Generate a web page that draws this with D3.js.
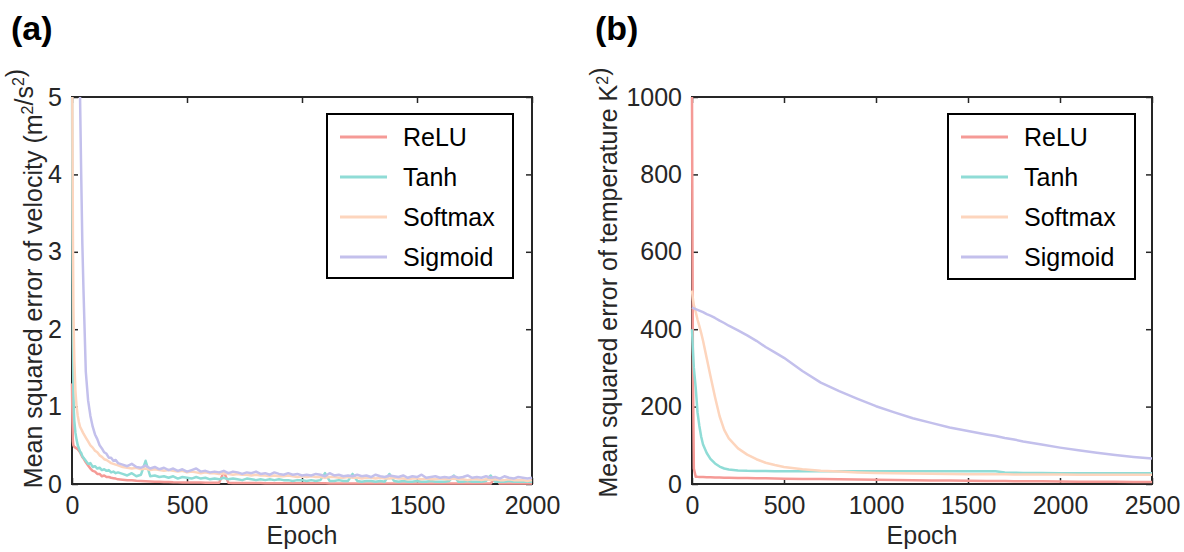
<!DOCTYPE html>
<html>
<head>
<meta charset="utf-8">
<script src="https://cdn.jsdelivr.net/npm/d3@7"></script>
<style>
  html, body { margin: 0; padding: 0; background: #fff; }
  svg { display: block; }
  text { font-family: "Liberation Sans", Arial, sans-serif; fill: #262626; }
</style>
</head>
<body>
<script>
// ---------- Panel (a): velocity MSE vs epoch ----------
const epochsA = [0,2,4,6,8,10,15,20,25,30,35,40,45,50,60,70,80,90,100,110,120,130,140,150,160,170,180,190,200]
  .concat(d3.range(220, 2001, 20));

const reluA = [1.3,0.8,0.55,0.5,0.49,0.48,0.47,0.46,0.45,0.43,0.41,0.38,0.35,0.33,0.28,0.24,0.2,0.17,0.16,0.13,0.13,0.1,0.11,0.09,0.09,0.08,0.075,0.07,0.06,
  0.055,0.05,0.048,0.042,0.04,0.036,0.033,0.03,0.03,0.026,
  0.025,0.022,0.021,0.02,0.02,0.019,0.018,0.018,0.017,0.017,
  0.016,0.015,0.16,0.015,0.014,0.014,0.013,0.013,0.012,0.012,
  0.012,0.011,0.011,0.011,0.01,0.01,0.01,0.01,0.01,0.01,
  0.009,0.009,0.009,0.009,0.009,0.008,0.008,0.008,0.008,0.008,
  0.008,0.008,0.007,0.007,0.007,0.007,0.007,0.007,0.007,0.007,
  0.006,0.006,0.006,0.006,0.006,0.006,0.006,0.006,0.006,0.006,
  0.006,0.005,0.005,0.005,0.005,0.005,0.005,0.005,0.005,0.005,
  0.005,0.08,0.005,0.005,0.005,0.005,0.005,0.005,0.005,0.005];

const tanhA = [5.5,3.2,1.8,1.2,0.95,0.82,0.66,0.57,0.5,0.46,0.42,0.4,0.36,0.34,0.3,0.26,0.27,0.22,0.23,0.2,0.21,0.18,0.19,0.17,0.18,0.15,0.16,0.14,0.15,
  0.13,0.11,0.14,0.1,0.12,0.3,0.1,0.11,0.09,0.1,
  0.08,0.1,0.07,0.09,0.08,0.07,0.09,0.07,0.08,0.06,
  0.07,0.06,0.08,0.06,0.07,0.06,0.05,0.07,0.06,0.05,
  0.06,0.05,0.06,0.05,0.06,0.05,0.05,0.04,0.05,0.05,
  0.04,0.05,0.04,0.05,0.14,0.04,0.04,0.05,0.04,0.04,
  0.13,0.04,0.03,0.04,0.04,0.03,0.04,0.03,0.13,0.04,
  0.03,0.04,0.03,0.03,0.04,0.03,0.03,0.04,0.03,0.03,
  0.03,0.04,0.11,0.03,0.03,0.04,0.03,0.03,0.03,0.04,
  0.11,0.03,0.03,0.03,0.04,0.03,0.03,0.03,0.03,0.03];

const softmaxA = [6,4.5,3.2,2.3,1.9,1.6,1.2,1.0,0.88,0.8,0.74,0.71,0.68,0.65,0.6,0.55,0.5,0.47,0.43,0.41,0.37,0.35,0.32,0.31,0.29,0.27,0.26,0.25,0.24,
  0.22,0.21,0.2,0.21,0.19,0.2,0.18,0.19,0.18,0.17,
  0.18,0.17,0.16,0.17,0.15,0.16,0.15,0.14,0.15,0.14,
  0.14,0.13,0.14,0.13,0.12,0.13,0.12,0.12,0.11,0.12,
  0.11,0.11,0.1,0.11,0.1,0.1,0.11,0.1,0.09,0.1,
  0.09,0.1,0.09,0.09,0.08,0.09,0.09,0.08,0.08,0.09,
  0.08,0.08,0.07,0.08,0.08,0.07,0.08,0.07,0.07,0.08,
  0.07,0.07,0.06,0.07,0.07,0.06,0.07,0.06,0.06,0.07,
  0.06,0.06,0.07,0.06,0.06,0.05,0.06,0.06,0.05,0.06,
  0.05,0.06,0.05,0.05,0.06,0.05,0.05,0.05,0.04,0.05];

const sigmoidA = [15,13,12,11,10,9.4,8.2,7.2,6.4,5.6,5.0,4.0,3.1,2.5,1.45,1.08,0.88,0.74,0.64,0.58,0.5,0.46,0.41,0.39,0.34,0.34,0.3,0.31,0.27,
  0.25,0.23,0.26,0.22,0.21,0.24,0.2,0.22,0.19,0.21,
  0.18,0.2,0.17,0.19,0.16,0.18,0.2,0.16,0.17,0.15,
  0.16,0.15,0.17,0.14,0.16,0.15,0.13,0.15,0.14,0.16,
  0.13,0.14,0.12,0.15,0.13,0.12,0.14,0.12,0.13,0.11,
  0.12,0.11,0.13,0.12,0.1,0.14,0.11,0.12,0.1,0.11,
  0.1,0.12,0.1,0.11,0.09,0.12,0.1,0.09,0.11,0.1,
  0.09,0.11,0.08,0.1,0.09,0.12,0.08,0.09,0.1,0.08,
  0.09,0.08,0.1,0.08,0.09,0.11,0.08,0.09,0.08,0.1,
  0.08,0.09,0.07,0.1,0.08,0.07,0.09,0.08,0.07,0.08];

const xTicksA = [0, 500, 1000, 1500, 2000];
const yTicksA = [0, 1, 2, 3, 4, 5];

// ---------- Panel (b): temperature MSE vs epoch ----------
const epochsB = [0,5,10,20,30,40,50,60,80,100,125,150,175,200,250,300,350,400,450,500,600,700,800,900,1000,1100,1200,1300,1400,1500,1600,1650,1700,1750,1800,1900,2000,2100,2200,2300,2400,2500];

const reluB = [1000,300,40,19,18.5,18.2,18,17.8,17.5,17.2,16.9,16.6,16.4,16.2,15.8,15.4,15,14.6,14.2,13.8,13.2,12.6,12,11.4,10.8,10.3,9.8,9.3,8.8,8.4,8,7.8,7.6,7.4,7.2,6.8,6.4,6.1,5.8,5.5,5.3,5.1];

const tanhB = [400,345,300,250,185,150,122,102,80,65,53,45,40,37.5,35,34,33.6,33.4,33.2,33.1,33,33,33,33,33,33,33,33,33,33,33,33,30,29,28.6,28.3,28.1,28,28,28,28,28];

const softmaxB = [500,478,462,445,425,408,390,370,325,280,225,175,140,118,92,76,64,55,49,44,38,34,32,30,28.5,27.5,27,26.5,26,25.5,25.5,25,25,24.8,24.6,24.5,24.3,24.2,24,24,24,24];

const sigmoidB = [456,455,454,452,450,448,446,444,439,435,429,422,416,409,397,384,370,354,340,326,292,262,240,220,201,185,170,158,146,137,128,124,119,115,110,102,94,87,81,75,70,66];

const xTicksB = [0, 500, 1000, 1500, 2000, 2500];
const yTicksB = [0, 200, 400, 600, 800, 1000];

const seriesNames = ["ReLU", "Tanh", "Softmax", "Sigmoid"];
const seriesColors = ["#f59a96", "#8fdcd6", "#fdd5bd", "#c3c0ec"];

const W = 1184, H = 552;
const FONT = 25;
const AXIS = "#262626";

const svg = d3.select("body").append("svg")
  .attr("width", W).attr("height", H)
  .attr("viewBox", `0 0 ${W} ${H}`);
svg.append("rect").attr("width", W).attr("height", H).attr("fill", "#fff");

function drawPanel(p) {
  const x = d3.scaleLinear().domain(p.xDomain).range([p.left, p.right]);
  const y = d3.scaleLinear().domain(p.yDomain).range([p.bottom, p.top]);
  const g = svg.append("g");

  // box frame and inward ticks on all four sides (drawn beneath the data)
  g.append("rect")
    .attr("x", p.left).attr("y", p.top)
    .attr("width", p.right - p.left).attr("height", p.bottom - p.top)
    .attr("fill", "none").attr("stroke", AXIS).attr("stroke-width", 2);

  const tl = 6;
  const fmt = d3.format("d");
  const bottomAxis = d3.axisBottom(x).tickValues(p.xTicks).tickSize(-tl).tickPadding(12).tickFormat(fmt);
  const topAxis = d3.axisTop(x).tickValues(p.xTicks).tickSize(-tl).tickFormat("");
  const leftAxis = d3.axisLeft(y).tickValues(p.yTicks).tickSize(-tl).tickPadding(10).tickFormat(fmt);
  const rightAxis = d3.axisRight(y).tickValues(p.yTicks).tickSize(-tl).tickFormat("");

  const styleAxis = sel => {
    sel.select(".domain").remove();
    sel.selectAll(".tick line").attr("stroke", AXIS).attr("stroke-width", 1.5);
    sel.selectAll(".tick text")
      .attr("fill", AXIS)
      .style("font-family", '"Liberation Sans", Arial, sans-serif')
      .style("font-size", FONT + "px");
  };
  g.append("g").attr("transform", `translate(0,${p.bottom})`).call(bottomAxis).call(styleAxis);
  g.append("g").attr("transform", `translate(0,${p.top})`).call(topAxis).call(styleAxis);
  g.append("g").attr("transform", `translate(${p.left},0)`).call(leftAxis).call(styleAxis);
  g.append("g").attr("transform", `translate(${p.right},0)`).call(rightAxis).call(styleAxis);

  // curves, clipped to the axes box
  const clipId = "clip-" + p.id;
  svg.append("clipPath").attr("id", clipId)
    .append("rect")
    .attr("x", p.left - 2).attr("y", p.top)
    .attr("width", p.right - p.left + 4).attr("height", p.bottom - p.top + 2);

  const line = d3.line()
    .x((d, i) => x(p.epochs[i]))
    .y(d => y(d));
  const plot = g.append("g").attr("clip-path", `url(#${clipId})`);
  p.series.forEach((vals, k) => {
    plot.append("path")
      .attr("d", line(vals))
      .attr("fill", "none")
      .attr("stroke", seriesColors[k])
      .attr("stroke-width", 2.5)
      .attr("stroke-linejoin", "round");
  });

  // x label
  g.append("text")
    .attr("x", (p.left + p.right) / 2).attr("y", p.bottom + 60)
    .attr("text-anchor", "middle")
    .style("font-size", FONT + "px")
    .text("Epoch");

  // y label with superscripts
  const yl = g.append("text")
    .attr("transform", `translate(${p.yLabelX},${(p.top + p.bottom) / 2 + p.yLabelShift}) rotate(-90)`)
    .attr("text-anchor", "middle")
    .style("font-size", FONT + "px");
  p.yLabel.forEach(part => {
    if (part.sup) {
      yl.append("tspan").attr("dy", -9).style("font-size", "16px").text(part.sup);
      yl.append("tspan").attr("dy", 9).text("");
    } else {
      yl.append("tspan").text(part.t);
    }
  });

  // panel tag
  svg.append("text")
    .attr("x", p.tagX).attr("y", 40)
    .style("font-size", "34px").style("font-weight", "bold")
    .style("fill", "#000")
    .text(p.tag);

  // legend
  const lg = g.append("g");
  lg.append("rect")
    .attr("x", p.legend.x).attr("y", p.legend.y)
    .attr("width", p.legend.w).attr("height", p.legend.h)
    .attr("fill", "#fff").attr("stroke", "#000").attr("stroke-width", 2);
  seriesNames.forEach((name, k) => {
    const cy = p.legend.y + 23 + k * 40;
    lg.append("line")
      .attr("x1", p.legend.x + 13).attr("x2", p.legend.x + 60)
      .attr("y1", cy).attr("y2", cy)
      .attr("stroke", seriesColors[k]).attr("stroke-width", 3);
    lg.append("text")
      .attr("x", p.legend.x + 76).attr("y", cy)
      .attr("dy", "0.35em")
      .style("font-size", "25px")
      .style("fill", "#000")
      .text(name);
  });
}

drawPanel({
  id: "a", tag: "(a)", tagX: 11,
  left: 72, right: 532, top: 97, bottom: 484,
  xDomain: [0, 2000], yDomain: [0, 5],
  xTicks: xTicksA, yTicks: yTicksA,
  epochs: epochsA,
  series: [reluA, tanhA, softmaxA, sigmoidA],
  yLabelX: 42, yLabelShift: -12,
  yLabel: [{t: "Mean squared error of velocity (m"}, {sup: "2"}, {t: "/s"}, {sup: "2"}, {t: ")"}],
  legend: {x: 327, y: 114, w: 186, h: 164}
});

drawPanel({
  id: "b", tag: "(b)", tagX: 595,
  left: 692, right: 1152, top: 97, bottom: 484,
  xDomain: [0, 2500], yDomain: [0, 1000],
  xTicks: xTicksB, yTicks: yTicksB,
  epochs: epochsB,
  series: [reluB, tanhB, softmaxB, sigmoidB],
  yLabelX: 617, yLabelShift: -8,
  yLabel: [{t: "Mean squared error of temperature K"}, {sup: "2"}, {t: ")"}],
  legend: {x: 948, y: 114, w: 187, h: 165}
});
</script>
</body>
</html>
